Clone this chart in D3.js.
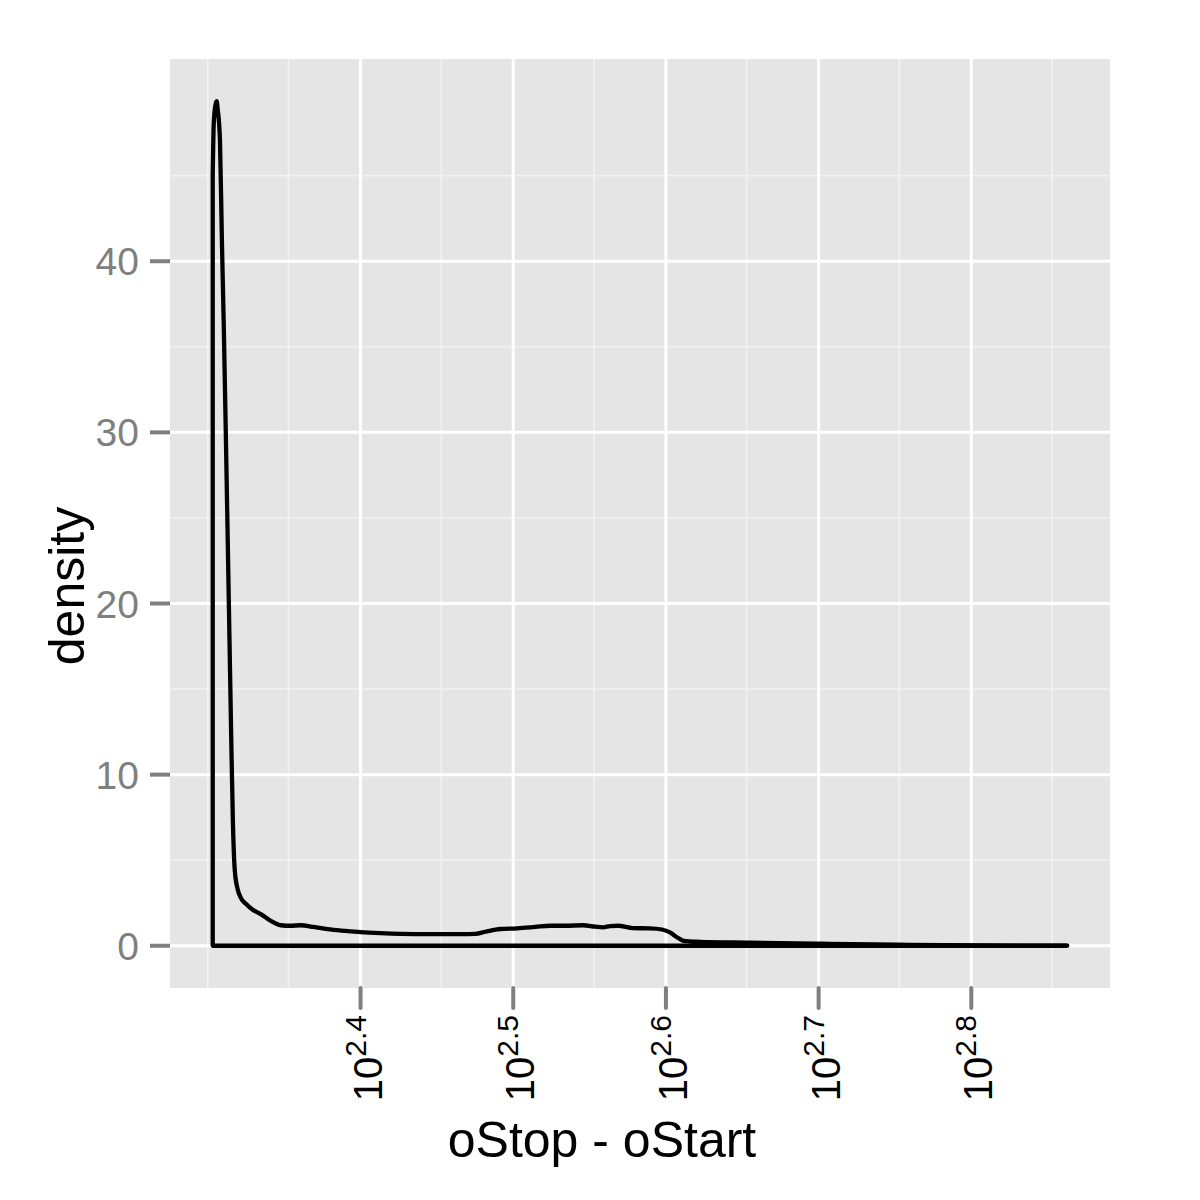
<!DOCTYPE html>
<html>
<head>
<meta charset="utf-8">
<script src="https://cdn.jsdelivr.net/npm/d3@7"></script>
<style>
    body { margin: 0; background: #fff; }
    svg { display: block; font-family: "Liberation Sans", Arial, Helvetica, sans-serif; }
</style>
</head>
<body>
<svg width="1200" height="1200"></svg>
<script>
// oStop - oStart values and their density
const lengths = [201.0, 201.3, 201.8, 202.2, 202.5, 203.2, 203.8, 204.4, 205.0, 205.6,
    206.2, 206.7, 207.2, 207.8, 208.7, 209.7, 211.3, 213.5, 216.1, 219.4,
    222.7, 226.1, 229.5, 234.0, 239.0, 245.6, 251.2, 258.9, 266.8, 279.1,
    292.0, 298.7, 303.2, 310.1, 318.1, 326.9, 334.3, 341.9, 351.3, 357.8,
    362.1, 365.9, 370.4, 378.8, 388.6, 395.7, 400.5, 404.8, 408.4, 412.8,
    419.0, 451.6, 502.0, 564.0, 638.6, 729.2];
const density = [45.0, 48.0, 49.1, 49.35, 48.9, 47.1, 41.2, 36.0, 30.0, 23.7,
    17.3, 12.0, 7.3, 4.4, 3.3, 2.8, 2.45, 2.1, 1.85, 1.45,
    1.2, 1.17, 1.2, 1.1, 0.97, 0.87, 0.8, 0.74, 0.7, 0.68,
    0.68, 0.7, 0.82, 0.98, 1.02, 1.1, 1.17, 1.17, 1.2, 1.12,
    1.08, 1.15, 1.17, 1.03, 1.02, 0.95, 0.78, 0.5, 0.3, 0.25,
    0.23, 0.18, 0.12, 0.06, 0.02, 0.005];

const xMajor = [2.4, 2.5, 2.6, 2.7, 2.8];           // exponents of 10
const xMinor = [199.5, 225.3, 283.7, 357.2, 449.6, 566.1, 712.7];
const yMajor = [0, 10, 20, 30, 40];
const yMinor = [5, 15, 25, 35, 45];

const svg = d3.select("svg");

const panel = { left: 170, right: 1110, top: 59, bottom: 988 };

// ggplot style 5% expansion, done in log space for x
const logExt = d3.extent(lengths).map(Math.log10);
const padX = (logExt[1] - logExt[0]) * 0.05;
const x = d3.scaleLog()
    .domain([Math.pow(10, logExt[0] - padX), Math.pow(10, logExt[1] + padX)])
    .range([panel.left, panel.right]);

const yMax = d3.max(density);
const y = d3.scaleLinear()
    .domain([-yMax * 0.05, yMax * 1.05])
    .range([panel.bottom, panel.top]);

// panel background
svg.append("rect")
    .attr("x", panel.left)
    .attr("y", panel.top)
    .attr("width", panel.right - panel.left)
    .attr("height", panel.bottom - panel.top)
    .attr("fill", "#e5e5e5");

const grid = svg.append("g");

grid.selectAll(".hminor")
    .data(yMinor)
    .join("line")
    .attr("x1", panel.left).attr("x2", panel.right)
    .attr("y1", d => y(d)).attr("y2", d => y(d))
    .attr("stroke", "#f2f2f2").attr("stroke-width", 1.6);

grid.selectAll(".vminor")
    .data(xMinor)
    .join("line")
    .attr("y1", panel.top).attr("y2", panel.bottom)
    .attr("x1", d => x(d)).attr("x2", d => x(d))
    .attr("stroke", "#f2f2f2").attr("stroke-width", 1.6);

grid.selectAll(".hmajor")
    .data(yMajor)
    .join("line")
    .attr("x1", panel.left).attr("x2", panel.right)
    .attr("y1", d => y(d)).attr("y2", d => y(d))
    .attr("stroke", "#fff").attr("stroke-width", 3);

grid.selectAll(".vmajor")
    .data(xMajor)
    .join("line")
    .attr("y1", panel.top).attr("y2", panel.bottom)
    .attr("x1", d => x(Math.pow(10, d))).attr("x2", d => x(Math.pow(10, d)))
    .attr("stroke", "#fff").attr("stroke-width", 3);

// density outline: left edge + baseline, then the curve
const pts = lengths.map((v, i) => [x(v), y(density[i])]);

const edge = d3.path();
edge.moveTo(x(lengths[lengths.length - 1]), y(0));
edge.lineTo(x(lengths[0]), y(0));
edge.lineTo(x(lengths[0]), y(density[0]));

svg.append("path")
    .attr("d", edge.toString())
    .attr("fill", "none")
    .attr("stroke", "#000")
    .attr("stroke-width", 4.3)
    .attr("stroke-linejoin", "round");

svg.append("path")
    .attr("d", d3.line().curve(d3.curveMonotoneX)(pts))
    .attr("fill", "none")
    .attr("stroke", "#000")
    .attr("stroke-width", 4.3)
    .attr("stroke-linejoin", "round")
    .attr("stroke-linecap", "round");

// y axis
const yAxis = svg.append("g");
yAxis.selectAll("line")
    .data(yMajor)
    .join("line")
    .attr("x1", panel.left - 20).attr("x2", panel.left)
    .attr("y1", d => y(d)).attr("y2", d => y(d))
    .attr("stroke", "#7f7f7f").attr("stroke-width", 4);

yAxis.selectAll("text")
    .data(yMajor)
    .join("text")
    .attr("x", 139)
    .attr("y", d => y(d) + 14)
    .attr("text-anchor", "end")
    .attr("font-size", 39)
    .attr("fill", "#7f7f7f")
    .text(d => d);

// x axis
const xAxis = svg.append("g");
xAxis.selectAll("line")
    .data(xMajor)
    .join("line")
    .attr("x1", d => x(Math.pow(10, d))).attr("x2", d => x(Math.pow(10, d)))
    .attr("y1", panel.bottom).attr("y2", panel.bottom + 20)
    .attr("stroke", "#7f7f7f").attr("stroke-width", 4)
    .attr("stroke-linecap", "round");

const xLabels = xAxis.selectAll("text")
    .data(xMajor)
    .join("text")
    .attr("transform", d => `translate(${x(Math.pow(10, d)) + 21}, 1015) rotate(-90)`)
    .attr("text-anchor", "end")
    .attr("fill", "#000");

xLabels.append("tspan")
    .attr("font-size", 40)
    .text("10");
xLabels.append("tspan")
    .attr("font-size", 30)
    .attr("dy", -16)
    .text(d => d.toFixed(1));

// axis titles
svg.append("text")
    .attr("x", 602)
    .attr("y", 1157)
    .attr("text-anchor", "middle")
    .attr("font-size", 50)
    .attr("fill", "#000")
    .text("oStop - oStart");

svg.append("text")
    .attr("transform", "translate(84, 586) rotate(-90)")
    .attr("text-anchor", "middle")
    .attr("font-size", 50)
    .attr("fill", "#000")
    .text("density");
</script>
</body>
</html>
